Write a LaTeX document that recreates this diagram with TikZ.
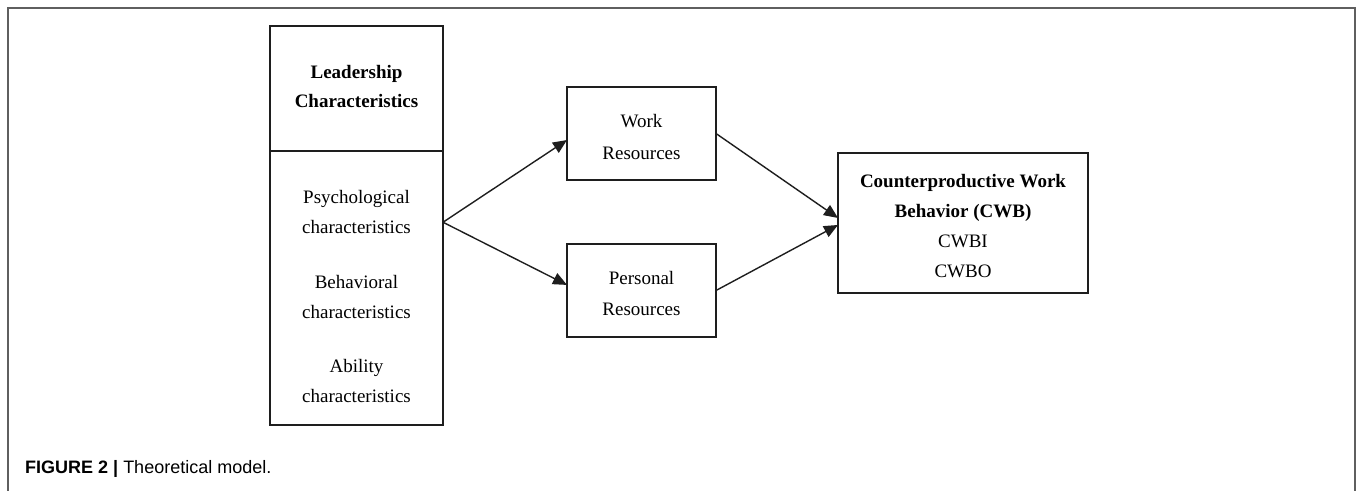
\documentclass[tikz,border=0pt]{standalone}
\usepackage{fontspec}
\setmainfont{Liberation Serif}
\newfontfamily\capfont{Liberation Sans}
\usetikzlibrary{arrows.meta,calc}
\definecolor{ink}{RGB}{30,30,30}
\definecolor{framegray}{RGB}{95,95,95}
\tikzset{
  box/.style={draw=ink, line width=2.8pt, inner sep=0pt, outer sep=0pt, align=center},
  txt/.style={inner sep=0pt, align=center, font=\fontsize{19}{30}\selectfont},
  link/.style={draw=ink, line width=1.4pt, -{Triangle[length=14pt,width=12pt]}},
}
\begin{document}
\begin{tikzpicture}[x=1pt,y=-1pt]
\useasboundingbox (0,0) rectangle (1357,490);
% frame
\draw[framegray, line width=1.5pt] (8,492) -- (8,8) -- (1355,8) -- (1355,492);
% boxes
\node[box, minimum width=173pt, minimum height=125pt] (lhead) at (356.5,88.5) {};
\node[box, minimum width=173pt, minimum height=274pt] (lbody) at (356.5,288) {};
\node[box, minimum width=149pt, minimum height=93pt] (work) at (641.5,133.5) {};
\node[box, minimum width=149pt, minimum height=93pt] (pers) at (641.5,290.5) {};
\node[box, minimum width=250pt, minimum height=140pt] (cwb) at (963,223) {};
% texts
\node[txt, font=\fontsize{19}{29}\selectfont\bfseries] (tlead) at (356.5,86) {Leadership\\Characteristics};
\node[txt] (tpsy) at (356.5,212) {Psychological\\characteristics};
\node[txt] (tbeh) at (356.5,297) {Behavioral\\characteristics};
\node[txt] (tabi) at (356.5,381) {Ability\\characteristics};
\node[txt, font=\fontsize{19}{32}\selectfont] (twork) at (641.5,137) {Work\\Resources};
\node[txt, font=\fontsize{19}{31}\selectfont] (tpers) at (641.5,293) {Personal\\Resources};
\node[txt] (tcwb) at (963,226) {\textbf{Counterproductive Work}\\\textbf{Behavior (CWB)}\\CWBI\\CWBO};
% connectors
\coordinate (src) at ($(lbody.north east)!0.26!(lbody.south east)$);
\coordinate (workin) at ($(work.north west)!0.57!(work.south west)$);
\coordinate (persin) at ($(pers.north west)!0.44!(pers.south west)$);
\coordinate (cwbin1) at ($(cwb.north west)!0.464!(cwb.south west)$);
\coordinate (cwbin2) at ($(cwb.north west)!0.514!(cwb.south west)$);
\draw[link] (src) -- (workin);
\draw[link] (src) -- (persin);
\draw[link] (work.east) -- (cwbin1);
\draw[link] (pers.east) -- (cwbin2);
% caption
\node[anchor=base west, inner sep=0pt, font=\capfont\fontsize{18}{21}\selectfont] (cap) at (25,473) {\textbf{FIGURE 2 |} Theoretical model.};
\end{tikzpicture}
\end{document}
